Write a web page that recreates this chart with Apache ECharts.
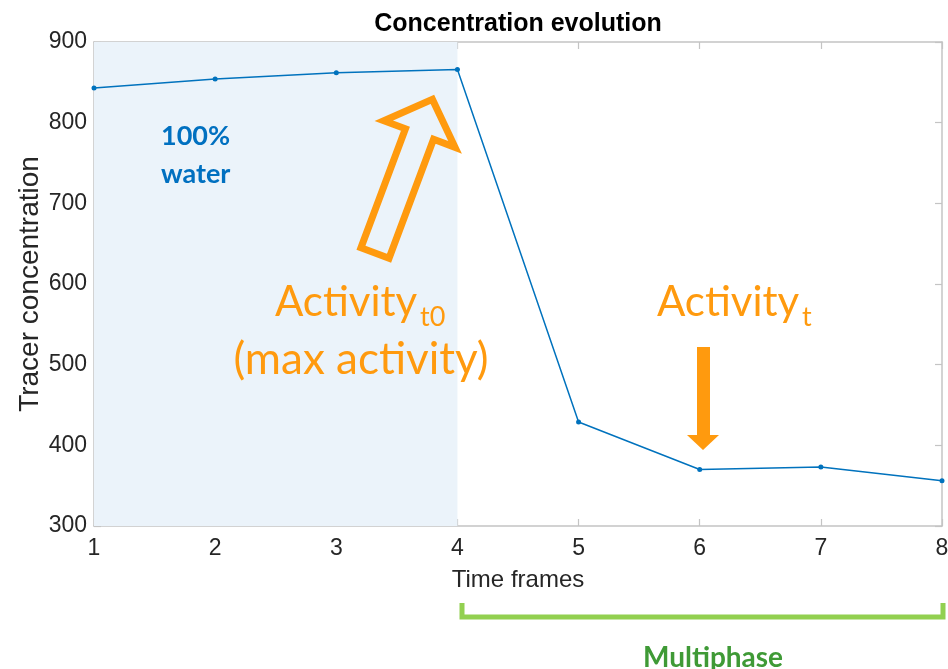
<!DOCTYPE html>
<html lang="en">
<head>
    <meta charset="UTF-8">
    <title>Concentration evolution</title>
    <script src="https://cdn.jsdelivr.net/npm/echarts@6/dist/echarts.min.js"></script>
    <style>
        html, body { margin: 0; padding: 0; background: #fff; }
        #chart { width: 948px; height: 669px; }
    </style>
</head>
<body>
    <div id="chart"></div>
    <script>
        // data
        var frames = [1, 2, 3, 4, 5, 6, 7, 8];
        var concentration = [843, 854, 862, 866, 429, 370, 373, 356];
        var waterPhase = [1, 4];   // shaded "100% water" span (time frames)

        var axisGray = '#c4c4c4';
        var textGray = '#262626';
        var orange = '#ff9a0e';

        var myChart = echarts.init(document.getElementById('chart'));

        // outline arrow polygon (tail center, tip direction)
        function arrowPoints(tx, ty, angleDeg, len, shaftHalf, headHalf, headLen) {
            var a = angleDeg * Math.PI / 180;
            var ux = Math.cos(a), uy = Math.sin(a);
            var nx = -uy, ny = ux;
            var bx = tx + ux * (len - headLen), by = ty + uy * (len - headLen);
            return [
                [tx + nx * shaftHalf, ty + ny * shaftHalf],
                [bx + nx * shaftHalf, by + ny * shaftHalf],
                [bx + nx * headHalf, by + ny * headHalf],
                [tx + ux * len, ty + uy * len],
                [bx - nx * headHalf, by - ny * headHalf],
                [bx - nx * shaftHalf, by - ny * shaftHalf],
                [tx - nx * shaftHalf, ty - ny * shaftHalf]
            ];
        }

        var axisCommon = {
            type: 'value',
            min: 1,
            max: 8,
            interval: 1,
            axisLine: { show: true, lineStyle: { color: axisGray, width: 1.5 } },
            axisTick: { show: true, inside: true, length: 7, lineStyle: { color: axisGray, width: 1.2 } },
            splitLine: { show: false }
        };

        var option = {
            animation: false,
            backgroundColor: '#fff',
            title: {
                text: 'Concentration evolution',
                left: 513,
                textAlign: 'center',
                top: 7,
                textStyle: { fontFamily: 'Liberation Sans', fontSize: 25, fontWeight: 'bold', color: '#000' }
            },
            grid: { left: 94, right: 6, top: 42, bottom: 143, outerBoundsMode: 'none' },
            xAxis: [
                Object.assign({}, axisCommon, {
                    position: 'bottom',
                    name: 'Time frames',
                    nameLocation: 'middle',
                    nameGap: 42,
                    nameMoveOverlap: false,
                    nameTextStyle: { fontFamily: 'Liberation Sans', fontSize: 24, color: textGray },
                    axisLabel: { fontFamily: 'Liberation Sans', fontSize: 23, color: textGray, margin: 11 }
                }),
                Object.assign({}, axisCommon, { position: 'top', axisLabel: { show: false } })
            ],
            yAxis: [
                Object.assign({}, axisCommon, {
                    min: 300, max: 900, interval: 100,
                    position: 'left',
                    name: 'Tracer concentration',
                    nameLocation: 'middle',
                    nameGap: 50,
                    nameMoveOverlap: false,
                    nameTextStyle: { fontFamily: 'Liberation Sans', fontSize: 28, color: textGray },
                    axisLabel: { fontFamily: 'Liberation Sans', fontSize: 23, color: textGray, margin: 7 }
                }),
                Object.assign({}, axisCommon, { min: 300, max: 900, interval: 100, position: 'right', axisLabel: { show: false } })
            ],
            series: [{
                type: 'line',
                data: frames.map(function (f, i) { return [f, concentration[i]]; }),
                symbol: 'circle',
                symbolSize: 5,
                lineStyle: { color: '#0072bd', width: 1.5 },
                itemStyle: { color: '#0072bd' },
                markArea: {
                    silent: true,
                    itemStyle: { color: '#ebf3fa' },
                    data: [[{ xAxis: waterPhase[0] }, { xAxis: waterPhase[1] }]]
                },
                z: 3
            }],
            graphic: [
                // 100% water
                { type: 'text', left: 161, top: 117, style: { text: '100%\nwater', fontFamily: 'Lato', fontWeight: 'bold', fontSize: 27, lineHeight: 38, fill: '#0070c0' }, z: 10 },
                // hollow arrow to max activity
                { type: 'polygon', shape: { points: arrowPoints(375, 253, -69.5, 164, 15, 38, 37) }, style: { fill: 'none', stroke: orange, lineWidth: 7, lineJoin: 'miter' }, z: 10 },
                // Activity t0
                { type: 'text', x: 275, y: 302, style: { text: 'Activity', fontFamily: 'Lato', fontSize: 42, fill: orange, verticalAlign: 'middle' }, z: 10 },
                { type: 'text', x: 420, y: 317, style: { text: 't0', fontFamily: 'Lato', fontSize: 27, fill: orange, verticalAlign: 'middle' }, z: 10 },
                { type: 'text', x: 361, y: 360, style: { text: '(max activity)', fontFamily: 'Lato', fontSize: 44, fill: orange, align: 'center', verticalAlign: 'middle' }, z: 10 },
                // Activity t
                { type: 'text', x: 657, y: 302, style: { text: 'Activity', fontFamily: 'Lato', fontSize: 42, fill: orange, verticalAlign: 'middle' }, z: 10 },
                { type: 'text', x: 802, y: 317, style: { text: 't', fontFamily: 'Lato', fontSize: 27, fill: orange, verticalAlign: 'middle' }, z: 10 },
                // filled down arrow
                { type: 'polygon', shape: { points: [[697, 347], [710, 347], [710, 435], [719, 435], [703, 450], [687, 435], [697, 435]] }, style: { fill: orange }, z: 10 },
                // multiphase bracket
                { type: 'polyline', shape: { points: [[462, 603], [462, 617], [943, 617], [943, 603]] }, style: { stroke: '#92d050', lineWidth: 5, fill: null }, z: 10 },
                { type: 'text', x: 713, y: 644, style: { text: 'Multiphase', fontFamily: 'Lato', fontWeight: 'bold', fontSize: 28, fill: '#3f9a36', align: 'center', verticalAlign: 'top' }, z: 10 }
            ]
        };

        myChart.setOption(option);
    </script>
</body>
</html>
